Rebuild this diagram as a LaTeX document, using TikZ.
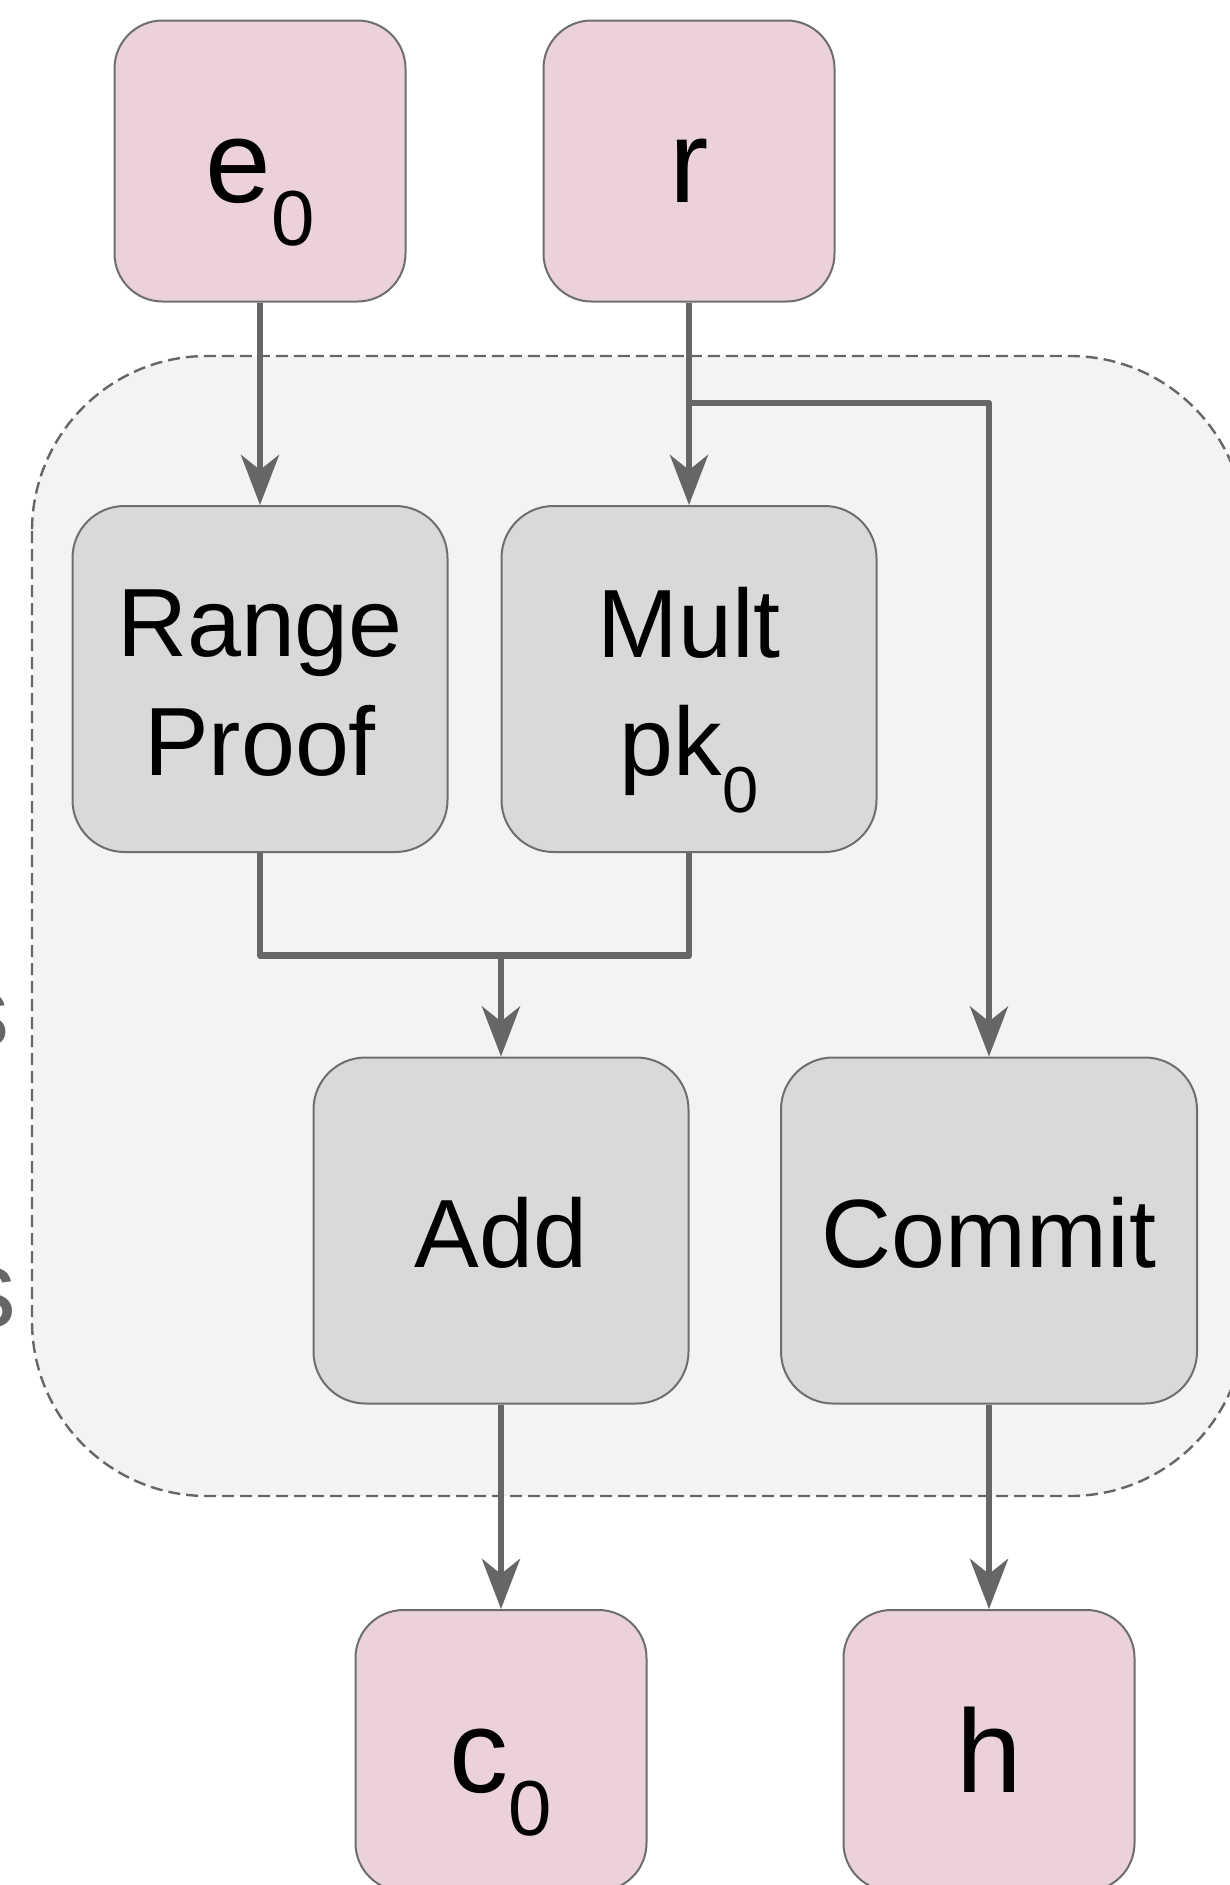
\documentclass[tikz,border=0pt]{standalone}
\usepackage{fontspec}
\setmainfont{Liberation Sans}
\usetikzlibrary{arrows.meta}

\definecolor{pinkfill}{HTML}{EAD1DC}
\definecolor{opfill}{HTML}{D9D9D9}
\definecolor{groupfill}{HTML}{F3F3F3}
\definecolor{wire}{HTML}{666666}
\definecolor{boxedge}{HTML}{6E6E6E}

% subscript "0" lowered below the baseline
\newcommand{\lowsub}[2]{\raisebox{-#1}{\fontsize{#2}{#2}\selectfont 0}}

\begin{document}
\begin{tikzpicture}[x=1pt,y=-1pt,
  iobox/.style={draw=boxedge, line width=2pt, fill=pinkfill, rounded corners=48pt,
    minimum width=291pt, minimum height=281pt, inner sep=0pt},
  opbox/.style={draw=boxedge, line width=2pt, fill=opfill, rounded corners=52pt,
    minimum height=346pt, inner sep=0pt},
  biglabel/.style={font=\fontsize{118}{131}\selectfont, anchor=base, inner sep=0pt},
  oplabel/.style={font=\fontsize{97}{119}\selectfont, anchor=base, inner sep=0pt},
  sidelabel/.style={text=wire, anchor=base east, inner sep=0pt},
  wireline/.style={draw=wire, line width=6.5pt, line join=round},
  wirearrow/.style={wireline, -{Stealth[length=50pt, width=38pt, inset=15pt]}},
]
\useasboundingbox (0,0) rectangle (1230,1885);
\fill[white] (0,0) rectangle (1230,1885);

% grouping region
\draw[draw=wire, line width=2.4pt, dash pattern=on 12pt off 6pt, fill=groupfill,
  rounded corners=175pt] (32,356) rectangle (1245,1496);

% partly visible side labels
\node[sidelabel, font=\fontsize{100}{110}\selectfont] (sideA) at (10,1046) {s};
\node[sidelabel, font=\fontsize{112}{124}\selectfont] (sideB) at (17,1327) {s};

% inputs
\node[iobox] (e0) at (260,161) {};
\node[iobox] (r) at (689,161) {};
\node[biglabel] (e0t) at (260,202) {e\lowsub{43pt}{78}};
\node[biglabel] (rt) at (689,202) {r};

% operations
\node[opbox, minimum width=375pt] (rp) at (260,679) {};
\node[opbox, minimum width=375pt] (mult) at (689,679) {};
\node[opbox, minimum width=375pt] (add) at (501,1230.5) {};
\node[opbox, minimum width=416pt] (commit) at (989,1230.5) {};
\node[oplabel] (rpa) at (260,656) {Range};
\node[oplabel] (rpb) at (260,775) {Proof};
\node[oplabel] (multa) at (689,657) {Mult};
\node[oplabel] (multb) at (689,775) {pk\lowsub{37pt}{65}};
\node[oplabel] (addt) at (501,1267) {Add};
\node[oplabel] (committ) at (989,1267) {Commit};

% outputs
\node[iobox] (c0) at (501,1750.5) {};
\node[iobox] (h) at (989,1750.5) {};
\node[biglabel] (c0t) at (501,1792) {c\lowsub{43pt}{78}};
\node[biglabel] (ht) at (989,1792) {h};

% connectors
\coordinate (split) at (689,403);
\coordinate (merge) at (501,955.5);
\draw[wirearrow] (e0.south) -- (rp.north);
\draw[wirearrow] (r.south) -- (mult.north);
\draw[wirearrow] (split) -| (commit.north);
\draw[wireline] (rp.south) |- (merge) -| (mult.south);
\draw[wirearrow] (merge) -- (add.north);
\draw[wirearrow] (add.south) -- (c0.north);
\draw[wirearrow] (commit.south) -- (h.north);
\end{tikzpicture}
\end{document}
